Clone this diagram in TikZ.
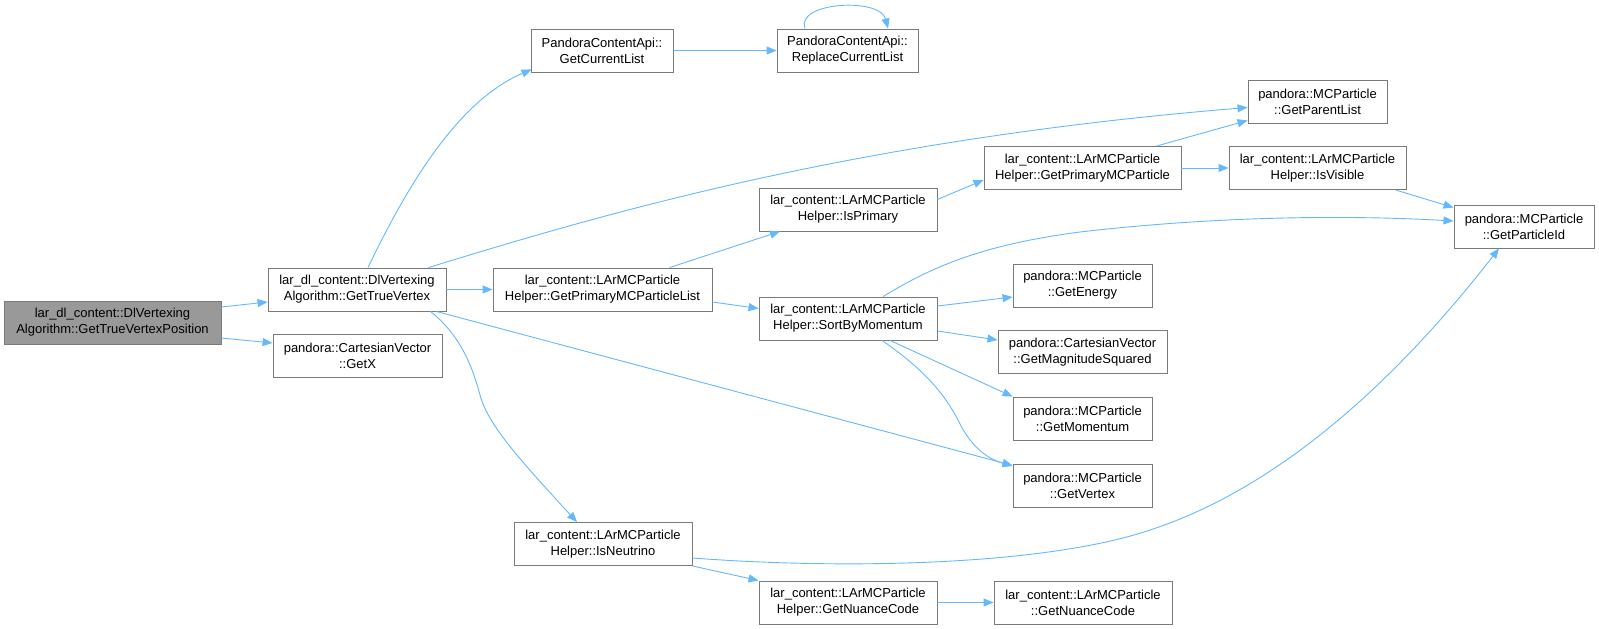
\documentclass[tikz,border=0pt]{standalone}
\usepackage{fontspec}
\setmainfont{Liberation Sans}
\usetikzlibrary{arrows.meta,calc}
\definecolor{edgeblue}{HTML}{63B8FF}
\definecolor{nodeborder}{HTML}{7A7A7A}
\definecolor{rootfill}{HTML}{999999}
\tikzset{
  fn/.style={draw=nodeborder,line width=0.9pt,fill=white,minimum height=43pt,inner sep=0pt,align=center,
    font=\fontsize{13}{16}\selectfont},
  rootfn/.style={fn,fill=rootfill},
  e/.style={draw=edgeblue,line width=0.9pt,-{Triangle[length=10pt,width=8pt]}}
}
\begin{document}
\begin{tikzpicture}[x=1pt,y=-1pt]
\useasboundingbox (0,0) rectangle (1599,629);
% nodes
\node[rootfn,minimum width=217pt] (pos) at (112.5,322.5) {lar\_dl\_content::DlVertexing\\Algorithm::GetTrueVertexPosition};
\node[fn,minimum width=178pt] (gtv) at (357,289.5) {lar\_dl\_content::DlVertexing\\Algorithm::GetTrueVertex};
\node[fn,minimum width=169pt] (getx) at (357.5,355.5) {pandora::CartesianVector\\::GetX};
\node[fn,minimum width=142pt] (gcl) at (602,50.5) {PandoraContentApi::\\GetCurrentList};
\node[fn,minimum width=141pt] (rcl) at (847.5,50.5) {PandoraContentApi::\\ReplaceCurrentList};
\node[fn,minimum width=139pt] (gpl) at (1317.5,101.5) {pandora::MCParticle\\::GetParentList};
\node[fn,minimum width=219pt] (gpmpl) at (602.5,289.5) {lar\_content::LArMCParticle\\Helper::GetPrimaryMCParticleList};
\node[fn,minimum width=178pt] (isprim) at (848,209.5) {lar\_content::LArMCParticle\\Helper::IsPrimary};
\node[fn,minimum width=197pt] (gpmp) at (1082.5,168) {lar\_content::LArMCParticle\\Helper::GetPrimaryMCParticle};
\node[fn,minimum width=177pt] (isvis) at (1317.5,168) {lar\_content::LArMCParticle\\Helper::IsVisible};
\node[fn,minimum width=140pt] (gpid) at (1524,226.5) {pandora::MCParticle\\::GetParticleId};
\node[fn,minimum width=178pt] (sort) at (848,318.5) {lar\_content::LArMCParticle\\Helper::SortByMomentum};
\node[fn,minimum width=139pt] (gen) at (1082.5,285.5) {pandora::MCParticle\\::GetEnergy};
\node[fn,minimum width=169pt] (mag) at (1082.5,352) {pandora::CartesianVector\\::GetMagnitudeSquared};
\node[fn,minimum width=139pt] (gmom) at (1082.5,418.5) {pandora::MCParticle\\::GetMomentum};
\node[fn,minimum width=139pt] (gvtx) at (1082.5,485.5) {pandora::MCParticle\\::GetVertex};
\node[fn,minimum width=178pt] (isnu) at (603,544) {lar\_content::LArMCParticle\\Helper::IsNeutrino};
\node[fn,minimum width=178pt] (nc1) at (848,602.5) {lar\_content::LArMCParticle\\Helper::GetNuanceCode};
\node[fn,minimum width=178pt] (nc2) at (1083,602.5) {lar\_content::LArMCParticle\\::GetNuanceCode};
% edges
\draw[e] ($(pos.east)+(0,-15.5)$) -- ($(gtv.west)+(0,12.5)$);
\draw[e] ($(pos.east)+(0,15.5)$) -- ($(getx.west)+(0,-12.5)$);
\draw[e] ($(gtv.north)+(11,0)$) .. controls (410,180) and (460,100) .. ($(gcl.south west)+(1,-3)$);
\draw[e] (gcl.east) -- (rcl.west);
\draw[e] ($(rcl.north)+(-42.5,0)$) .. controls (795,2) and (880,-3) .. ($(rcl.north)+(40.5,0)$);
\draw[e] ($(gtv.north east)+(-18,0)$) .. controls (600,215) and (850,140) .. ($(gpl.west)+(0,6)$);
\draw[e] (gtv.east) -- (gpmpl.west);
\draw[e] ($(gtv.south east)+(-10,0)$) -- ($(gvtx.west)+(0,-20)$);
\draw[e] ($(gtv.south east)+(-16,0)$) .. controls (460,335) and (472,365) .. (480,395) .. controls (488,425) and (520,460) .. ($(isnu.north)+(-26,0)$);
\draw[e] ($(gpmpl.north)+(67,0)$) -- ($(isprim.south)+(-68,0)$);
\draw[e] ($(gpmpl.east)+(0,12.5)$) -- ($(sort.west)+(0,-10)$);
\draw[e] ($(isprim.east)+(0,-10)$) -- ($(gpmp.west)+(0,12)$);
\draw[e] ($(gpmp.north east)+(-25,0)$) -- ($(gpl.south west)+(0,-3)$);
\draw[e] (gpmp.east) -- (isvis.west);
\draw[e] ($(isvis.south east)+(-11,0)$) -- ($(gpid.north west)+(0,3)$);
\draw[e] ($(sort.north)+(35,0)$) .. controls (930,268) and (980,245) .. (1080,232) .. controls (1200,218) and (1330,214) .. ($(gpid.west)+(0,-5.5)$);
\draw[e] ($(sort.east)+(0,-12.5)$) -- ($(gen.west)+(0,11.5)$);
\draw[e] ($(sort.east)+(0,12.5)$) -- ($(mag.west)+(0,-12)$);
\draw[e] ($(sort.south)+(42,0)$) -- ($(gmom.north west)+(0,0)$);
\draw[e] ($(sort.south)+(34,0)$) .. controls (925,370) and (945,395) .. (958,420) .. controls (970,445) and (985,458) .. ($(gvtx.west)+(0,-19.5)$);
\draw[e] ($(isnu.east)+(0,14)$) .. controls (850,570) and (1050,565) .. (1153,529) .. controls (1300,480) and (1420,350) .. ($(gpid.south)+(-25,0)$);
\draw[e] (isnu.south east) -- (nc1.north west);
\draw[e] (nc1.east) -- (nc2.west);
\end{tikzpicture}
\end{document}
